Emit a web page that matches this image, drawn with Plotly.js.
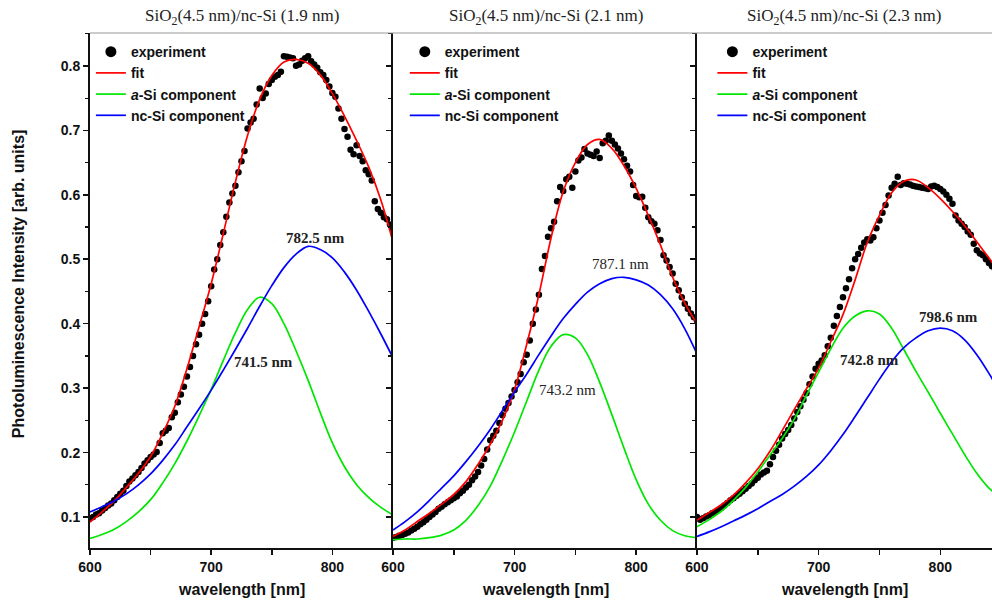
<!DOCTYPE html>
<html><head><meta charset="utf-8">
<script src="https://cdn.plot.ly/plotly-3.0.1.min.js"></script>
<style>html,body{margin:0;padding:0;background:#fff}#chart{width:992px;height:602px}</style>
</head><body><div id="chart"></div>
<script>
// wavelength grids [nm]
const lamFit = [600,610,620,630,640,650,660,670,680,690,700,710,720,730,740,750,760,770,780,790,800,810,820,830,840,850];
const lamExp = [600,602.5,605,607.5,610,612.5,615,617.5,620,622.5,625,627.5,630,632.5,635,637.5,640,642.5,645,647.5,650,652.5,655,657.5,660,662.5,665,667.5,670,672.5,675,677.5,680,682.5,685,687.5,690,692.5,695,697.5,700,702.5,705,707.5,710,712.5,715,717.5,720,722.5,725,727.5,730,732.5,735,737.5,740,742.5,745,747.5,750,752.5,755,757.5,760,762.5,765,767.5,770,772.5,775,777.5,780,782.5,785,787.5,790,792.5,795,797.5,800,802.5,805,807.5,810,812.5,815,817.5,820,822.5,825,827.5,830,832.5,835,837.5,840,842.5,845,847.5,850];

// Panel 1: SiO2(4.5 nm)/nc-Si (1.9 nm)
const exp1 = [0.098,0.100,0.104,0.106,0.110,0.114,0.118,0.121,0.126,0.131,
  0.136,0.141,0.148,0.155,0.160,0.165,0.170,0.176,0.183,0.188,
  0.193,0.197,0.201,0.215,0.230,0.234,0.238,0.255,0.262,0.278,
  0.290,0.302,0.318,0.333,0.350,0.368,0.383,0.400,0.415,0.435,
  0.458,0.484,0.500,0.522,0.542,0.566,0.588,0.602,0.614,0.635,
  0.652,0.668,0.703,0.712,0.718,0.740,0.765,0.750,0.757,0.772,
  0.778,0.783,0.786,0.791,0.815,0.814,0.813,0.812,0.800,0.802,
  0.808,0.812,0.815,0.807,0.802,0.797,0.790,0.786,0.778,0.768,
  0.758,0.752,0.734,0.718,0.702,0.690,0.670,0.663,0.677,0.660,
  0.652,0.638,0.632,0.622,0.590,0.578,0.572,0.565,0.562,0.554,
  0.546];
const fit1 = [0.092,0.108,0.125,0.146,0.168,0.194,0.230,0.272,0.330,0.395,0.462,0.540,0.620,0.692,0.748,0.785,0.806,0.810,0.804,0.786,0.757,0.722,0.684,0.643,0.592,0.527];
const aSi1 = [0.067,0.073,0.081,0.093,0.108,0.127,0.153,0.183,0.218,0.257,0.298,0.343,0.386,0.422,0.441,0.431,0.400,0.358,0.312,0.262,0.215,0.178,0.150,0.130,0.115,0.103];
const nc1  = [0.108,0.116,0.125,0.136,0.150,0.167,0.188,0.212,0.240,0.268,0.297,0.328,0.360,0.393,0.427,0.459,0.487,0.508,0.520,0.515,0.502,0.480,0.452,0.419,0.384,0.347];

// Panel 2: SiO2(4.5 nm)/nc-Si (2.1 nm)
const exp2 = [0.068,0.069,0.071,0.072,0.074,0.076,0.079,0.082,0.085,0.089,
  0.092,0.096,0.100,0.104,0.108,0.113,0.116,0.120,0.123,0.126,
  0.129,0.132,0.137,0.141,0.146,0.150,0.157,0.163,0.170,0.180,
  0.190,0.205,0.219,0.226,0.234,0.246,0.258,0.268,0.277,0.287,
  0.297,0.309,0.322,0.340,0.352,0.374,0.400,0.422,0.445,0.485,
  0.505,0.535,0.548,0.558,0.590,0.612,0.606,0.624,0.628,0.611,
  0.636,0.653,0.658,0.671,0.664,0.662,0.660,0.667,0.657,0.680,
  0.684,0.692,0.684,0.678,0.672,0.664,0.655,0.645,0.636,0.615,
  0.598,0.596,0.597,0.580,0.565,0.559,0.555,0.545,0.530,0.506,
  0.498,0.488,0.478,0.462,0.452,0.441,0.431,0.423,0.416,0.410,
  0.405];
const fit2 = [0.070,0.080,0.093,0.106,0.120,0.135,0.155,0.182,0.213,0.250,0.298,0.368,0.445,0.533,0.605,0.650,0.678,0.686,0.672,0.645,0.610,0.568,0.522,0.472,0.432,0.400];
const aSi2 = [0.065,0.066,0.066,0.068,0.072,0.080,0.095,0.118,0.148,0.188,0.232,0.280,0.328,0.365,0.383,0.378,0.352,0.309,0.259,0.207,0.158,0.120,0.095,0.079,0.071,0.068];
const nc2  = [0.080,0.093,0.108,0.126,0.145,0.164,0.186,0.210,0.236,0.265,0.294,0.322,0.352,0.381,0.408,0.430,0.449,0.462,0.470,0.472,0.468,0.460,0.445,0.423,0.392,0.353];

// Panel 3: SiO2(4.5 nm)/nc-Si (2.3 nm)
const exp3 = [0.100,0.096,0.098,0.101,0.103,0.106,0.108,0.111,0.114,0.118,
  0.122,0.126,0.129,0.133,0.136,0.140,0.144,0.148,0.152,0.157,
  0.161,0.166,0.169,0.172,0.182,0.193,0.203,0.212,0.222,0.229,
  0.235,0.243,0.253,0.263,0.272,0.282,0.292,0.306,0.318,0.330,
  0.338,0.343,0.351,0.365,0.378,0.397,0.412,0.426,0.441,0.455,
  0.469,0.486,0.500,0.508,0.518,0.526,0.531,0.529,0.534,0.548,
  0.560,0.572,0.584,0.599,0.611,0.617,0.628,0.615,0.618,0.617,
  0.616,0.614,0.613,0.612,0.611,0.610,0.609,0.613,0.614,0.612,
  0.609,0.605,0.600,0.594,0.586,0.568,0.560,0.555,0.550,0.543,
  0.538,0.524,0.514,0.509,0.506,0.500,0.494,0.489,0.484,0.479,
  0.474];
const fit3 = [0.095,0.107,0.119,0.134,0.153,0.175,0.202,0.234,0.267,0.299,0.331,0.372,0.414,0.468,0.526,0.568,0.603,0.621,0.623,0.611,0.594,0.574,0.552,0.527,0.502,0.476];
const aSi3 = [0.085,0.096,0.109,0.126,0.146,0.170,0.196,0.222,0.252,0.289,0.325,0.361,0.393,0.412,0.420,0.415,0.393,0.360,0.326,0.294,0.261,0.229,0.197,0.168,0.145,0.130];
const nc3  = [0.070,0.077,0.085,0.094,0.103,0.113,0.124,0.135,0.148,0.163,0.181,0.203,0.228,0.256,0.285,0.314,0.341,0.363,0.378,0.389,0.393,0.389,0.375,0.352,0.323,0.290];

const panelTitles = ["SiO<sub>2</sub>(4.5 nm)/nc-Si (1.9 nm)","SiO<sub>2</sub>(4.5 nm)/nc-Si (2.1 nm)","SiO<sub>2</sub>(4.5 nm)/nc-Si (2.3 nm)"];
const seriesNames = ["experiment","fit","<i>a</i>-Si component","nc-Si component"];
const ncPeakLabels = ["782.5 nm","787.1 nm","798.6 nm"];
const aSiPeakLabels = ["741.5 nm","743.2 nm","742.8 nm"];

const colors = {exp:"#000000", fit:"#ff0000", aSi:"#00e600", nc:"#0000ff"};
const panels = [
  {exp:exp1, fit:fit1, aSi:aSi1, nc:nc1},
  {exp:exp2, fit:fit2, aSi:aSi2, nc:nc2},
  {exp:exp3, fit:fit3, aSi:aSi3, nc:nc3}
];

const traces = [];
panels.forEach((p, i) => {
  const xa = i === 0 ? "x" : "x" + (i + 1);
  const ya = i === 0 ? "y" : "y" + (i + 1);
  const lg = i === 0 ? "legend" : "legend" + (i + 1);
  // legend-only entry (larger symbol in the key, no mark drawn)
  traces.push({x: [null], y: [null], xaxis: xa, yaxis: ya, legend: lg, name: seriesNames[0],
    mode: "markers", type: "scatter", marker: {color: colors.exp, size: 11}});
  traces.push({x: lamExp, y: p.exp, xaxis: xa, yaxis: ya, legend: lg, name: seriesNames[0], showlegend: false,
    mode: "markers", type: "scatter", marker: {color: colors.exp, size: 6.5}});
  traces.push({x: lamFit, y: p.fit, xaxis: xa, yaxis: ya, legend: lg, name: seriesNames[1],
    mode: "lines", type: "scatter", line: {color: colors.fit, width: 1.7, shape: "spline"}});
  traces.push({x: lamFit, y: p.aSi, xaxis: xa, yaxis: ya, legend: lg, name: seriesNames[2],
    mode: "lines", type: "scatter", line: {color: colors.aSi, width: 1.7, shape: "spline"}});
  traces.push({x: lamFit, y: p.nc, xaxis: xa, yaxis: ya, legend: lg, name: seriesNames[3],
    mode: "lines", type: "scatter", line: {color: colors.nc, width: 1.7, shape: "spline"}});
});

const sans = "Liberation Sans, Arial, sans-serif";
const tickFont = {family: sans, size: 14, color: "#111", weight: "bold"};
function xAxis(domain, range) {
  return {domain: domain, range: range, showgrid: false, zeroline: false,
    showline: true, linecolor: "#111", linewidth: 2,
    ticks: "outside", ticklen: 5, tickwidth: 1.5, tickcolor: "#111",
    tick0: 600, dtick: 100, tickfont: tickFont,
    minor: {dtick: 50, ticks: "outside", ticklen: 5, tickwidth: 1.5, tickcolor: "#111"}};
}
function yAxis(anchor, showLabels) {
  return {anchor: anchor, range: [0.052, 0.851], showgrid: false, zeroline: false,
    showline: true, linecolor: "#111", linewidth: 2,
    ticks: "outside", ticklen: 5, tickwidth: 1.5, tickcolor: "#111",
    tick0: 0, dtick: 0.1, tickformat: ".1f", showticklabels: showLabels, tickfont: tickFont,
    minor: {dtick: 0.05, ticks: "outside", ticklen: 3, tickwidth: 1.2, tickcolor: "#111"}};
}
const legendBase = {yanchor: "top", xanchor: "left", y: 0.994, bgcolor: "rgba(0,0,0,0)",
  font: {family: sans, size: 14, color: "#111", weight: "bold"},
  tracegroupgap: 0};

const serif = "Liberation Serif, Times New Roman, serif";
const annotations = [];
const centers = [0.168, 0.505, 0.836];
panelTitles.forEach((t, i) => {
  annotations.push({text: t, xref: "paper", yref: "paper", x: centers[i], y: 1.031,
    xanchor: "center", yanchor: "middle", showarrow: false,
    font: {family: serif, size: 17, color: "#222"}});
  annotations.push({text: "wavelength [nm]", xref: "paper", yref: "paper", x: centers[i], y: -0.080,
    xanchor: "center", yanchor: "middle", showarrow: false,
    font: {family: sans, size: 16, color: "#111", weight: "bold"}});
});
const xr = ["x", "x2", "x3"], yr = ["y", "y2", "y3"];
const ncPos = [[785.7, 0.533], [786.8, 0.492], [806.8, 0.411]];
const aSiPos = [[743.2, 0.340], [743.5, 0.297], [741.6, 0.344]];
for (let i = 0; i < 3; i++) {
  const w = i === 1 ? "normal" : "bold";
  annotations.push({text: ncPeakLabels[i], xref: xr[i], yref: yr[i], x: ncPos[i][0], y: ncPos[i][1],
    showarrow: false, font: {family: serif, size: 15, color: "#222", weight: w}});
  annotations.push({text: aSiPeakLabels[i], xref: xr[i], yref: yr[i], x: aSiPos[i][0], y: aSiPos[i][1],
    showarrow: false, font: {family: serif, size: 15, color: "#222", weight: w}});
}
annotations.push({text: "Photoluminescence Intensity [arb. units]", xref: "paper", yref: "paper",
  x: -0.080, y: 0.514, textangle: -90, xanchor: "center", yanchor: "middle", showarrow: false,
  font: {family: sans, size: 16, color: "#111", weight: "bold"}});

const layout = {
  width: 992, height: 602,
  margin: {l: 90, r: 0, t: 33, b: 54},
  paper_bgcolor: "#ffffff", plot_bgcolor: "#ffffff",
  showlegend: true,
  xaxis: xAxis([0, 0.3359], [600, 850]),
  xaxis2: xAxis([0.3359, 0.6729], [600, 850]),
  xaxis3: xAxis([0.6729, 1], [600, 842.5]),
  yaxis: yAxis("x", true),
  yaxis2: yAxis("x2", false),
  yaxis3: yAxis("x3", false),
  legend: Object.assign({}, legendBase, {x: 0.001}),
  legend2: Object.assign({}, legendBase, {x: 0.349}),
  legend3: Object.assign({}, legendBase, {x: 0.690}),
  annotations: annotations,
  shapes: [{type: "line", xref: "paper", yref: "paper", x0: 0, x1: 1, y0: 1, y1: 1,
    line: {color: "#999", width: 1}}]
};

Plotly.newPlot("chart", traces, layout, {staticPlot: true, displayModeBar: false});
</script>
</body></html>
